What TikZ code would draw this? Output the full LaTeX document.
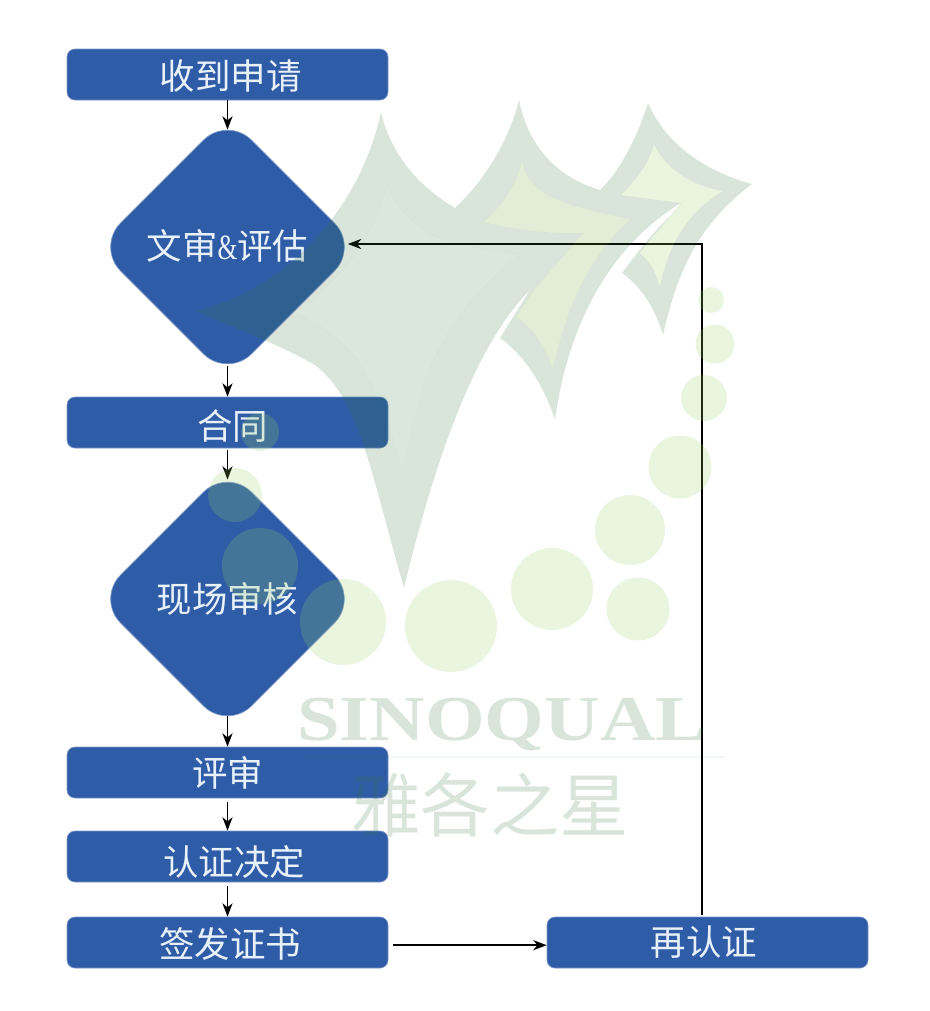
\documentclass[tikz,border=0pt]{standalone}
\usepackage{fontspec}
\newfontfamily\cjk{Noto Sans CJK SC}
\newfontfamily\logoserif{Liberation Serif}
\usetikzlibrary{shapes.geometric,arrows.meta}

\definecolor{flowblue}{RGB}{47,92,166}
\definecolor{flowedge}{RGB}{120,150,200}
\definecolor{flowtext}{RGB}{232,240,250}
\definecolor{markdark}{RGB}{52,116,58}
\definecolor{markmid}{RGB}{105,165,55}
\definecolor{marklight}{RGB}{150,207,102}

% dx, dy move the text inside its node
\newcommand{\flowlabel}[3]{\hspace*{#1}\raisebox{\dimexpr-9.5pt-#2\relax}[0pt][0pt]{#3}}

\newcommand{\inkone}{(387,184) .. controls (398,213) and (425,238) .. (458,243) .. controls (480,250) and (500,252) .. (521,255) .. controls (480,283) and (445,330) .. (428,373) .. controls (418,405) and (408,440) .. (402,473) .. controls (392,430) and (378,395) .. (360,365) .. controls (345,340) and (320,325) .. (294,312) .. controls (335,285) and (375,240) .. (387,184) -- cycle}
\newcommand{\inktwo}{(522,161) .. controls (529,195) and (560,205) .. (631,219) .. controls (590,255) and (565,310) .. (553,370) .. controls (544,345) and (533,328) .. (516,317) -- (533,291) -- (583,233) .. controls (550,234) and (515,230) .. (484,222) .. controls (502,205) and (517,185) .. (522,161) -- cycle}
\newcommand{\inkthree}{(654,144) .. controls (666,170) and (693,186) .. (723,191) .. controls (688,212) and (668,245) .. (660,287) .. controls (656,272) and (649,260) .. (639,253) -- (674,212) -- (681,203) -- (621,195) .. controls (636,180) and (648,165) .. (654,144) -- cycle}

\begin{document}
\begin{tikzpicture}
[x=0.75pt,y=-0.75pt,
 stepbox/.style={rectangle,draw=flowedge,fill=flowblue,line width=0.5pt,rounded corners=6pt,inner sep=0pt,
   minimum width=240.75pt,minimum height=38.25pt,text=flowtext,font=\cjk\fontsize{26.6}{30}\selectfont},
 checkbox/.style={diamond,aspect=1,draw=flowedge,fill=flowblue,line width=0.5pt,rounded corners=25.5pt,inner sep=0pt,
   minimum width=196.5pt,minimum height=196.5pt,text=flowtext,font=\cjk\fontsize{26.6}{30}\selectfont},
 flowline/.style={line width=1.4pt,-{Stealth[length=10pt,width=7.5pt,inset=3pt]}},
 dot/.style={circle,fill=marklight,opacity=0.21,inner sep=0pt}]

\useasboundingbox (0,0) rectangle (930,1011);

\node (apply) at (227.5,74.5) [stepbox] {\flowlabel{5pt}{2pt}{收到申请}};
\node (docs) at (227.5,247) [checkbox] {\flowlabel{0pt}{0pt}{文审{\logoserif\scalebox{0.72}[1]{\&}}评估}};
\node (contract) at (227.5,422.5) [stepbox] {\flowlabel{7.5pt}{3.4pt}{合同}};
\node (audit) at (227.5,599) [checkbox] {\flowlabel{0pt}{0.7pt}{现场审核}};
\node (review) at (227.5,772.5) [stepbox] {\flowlabel{0pt}{1pt}{评审}};
\node (decision) at (227.5,856.5) [stepbox] {\flowlabel{10pt}{4.5pt}{认证决定}};
\node (issue) at (227.5,942.5) [stepbox] {\flowlabel{4pt}{2pt}{签发证书}};
\node (renew) at (707.5,942.5) [stepbox] {\flowlabel{-5pt}{0pt}{再认证}};
\coordinate (turn) at (702,244);

\draw[flowline,shorten >=-10.5pt] (apply) -- (docs.north);
\draw[flowline,shorten <=-9pt] (docs.south) -- (contract);
\draw[flowline,shorten >=-9pt,shorten <=1pt] (contract) -- (audit.north);
\draw[flowline,shorten <=-10.5pt] (audit.south) -- (review);
\draw[flowline,shorten <=3pt] (review) -- (decision);
\draw[flowline,shorten <=3pt] (decision) -- (issue);
\draw[flowline,shorten <=3.5pt] ([yshift=-2pt]issue.east) -- ([yshift=-2pt]renew.west);
\draw[flowline,line width=1.6pt] ([yshift=1.5pt]turn |- renew.north) -- (turn) -- ([xshift=-8.25pt,yshift=2.25pt]docs.east);

% logo laid over the flow
\fill[markdark,opacity=0.19,even odd rule]
  (381,112) .. controls (392,160) and (425,190) .. (455,208)
  .. controls (485,180) and (509,140) .. (519,100)
  .. controls (529,150) and (560,178) .. (600,190)
  .. controls (621,170) and (638,135) .. (648,103)
  .. controls (666,145) and (707,172) .. (752,184)
  .. controls (698,225) and (678,270) .. (663,335)
  .. controls (654,305) and (639,285) .. (622,273)
  .. controls (639,250) and (659,225) .. (674,213)
  -- (681,203)
  .. controls (620,240) and (570,310) .. (555,420)
  .. controls (544,385) and (524,355) .. (500,338)
  -- (530,290)
  .. controls (470,350) and (430,480) .. (404,588)
  .. controls (370,470) and (360,400) .. (315,365)
  .. controls (280,345) and (240,330) .. (196,311)
  .. controls (285,290) and (360,210) .. (381,112) -- cycle
  \inkone \inktwo \inkthree;
\fill[markdark,opacity=0.175] \inkone;
\fill[markmid,opacity=0.2] \inktwo;
\fill[marklight,opacity=0.21] \inkthree;

\node (dot1) at (711,300) [dot,minimum size=26*0.75pt] {};
\node (dot2) at (715,344) [dot,minimum size=39*0.75pt] {};
\node (dot3) at (704,398) [dot,minimum size=46*0.75pt] {};
\node (dot4) at (680,467) [dot,minimum size=63*0.75pt] {};
\node (dot5) at (630,530) [dot,minimum size=70*0.75pt] {};
\node (dot6) at (552,589) [dot,minimum size=82*0.75pt] {};
\node (dot7) at (638,609) [dot,minimum size=63*0.75pt] {};
\node (dot8) at (451,626) [dot,minimum size=92*0.75pt] {};
\node (dot9) at (343,622) [dot,minimum size=86*0.75pt] {};
\node (dot10) at (260,566) [dot,minimum size=76*0.75pt] {};
\node (dot11) at (235,495) [dot,minimum size=54*0.75pt] {};
\node (dot12) at (260,432) [dot,minimum size=38*0.75pt] {};

\node (sinoqual) at (502,724) [text=markdark,opacity=0.19,inner sep=0pt,font=\logoserif\bfseries\fontsize{48}{50}\selectfont] {\scalebox{1.2}[1]{SINOQUAL}};
\node (yage) at (490,805) [text=markdark,opacity=0.19,inner sep=0pt,font=\cjk\fontsize{52}{55}\selectfont] {雅各之星};
\coordinate (rulea) at (300,757);
\coordinate (ruleb) at (725,757);
\draw[markdark,opacity=0.06,line width=1pt] (rulea) -- (ruleb);
\end{tikzpicture}
\end{document}
